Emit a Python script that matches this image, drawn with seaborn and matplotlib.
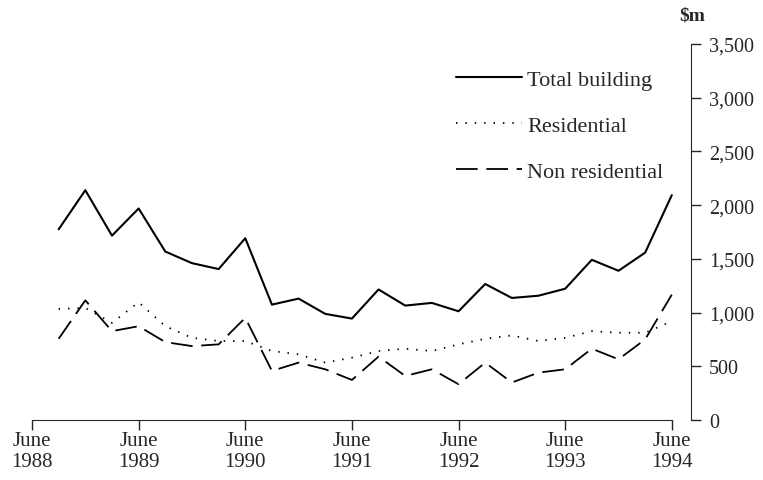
import numpy as np
import pandas as pd
import matplotlib
matplotlib.use('Agg')
import matplotlib.pyplot as plt
import seaborn as sns

sns.set_style("ticks")
plt.rcParams['font.family'] = ['Liberation Serif', 'DejaVu Serif']

# quarterly values, Sep 1988 .. Jun 1994 ($m)
quarters = ['Sep 1988', 'Dec 1988', 'Mar 1989', 'Jun 1989', 'Sep 1989', 'Dec 1989',
            'Mar 1990', 'Jun 1990', 'Sep 1990', 'Dec 1990', 'Mar 1991', 'Jun 1991',
            'Sep 1991', 'Dec 1991', 'Mar 1992', 'Jun 1992', 'Sep 1992', 'Dec 1992',
            'Mar 1993', 'Jun 1993', 'Sep 1993', 'Dec 1993', 'Mar 1994', 'Jun 1994']
total_building = [1775, 2139, 1716, 1969, 1568, 1460, 1405, 1692, 1074, 1130, 988, 944,
                  1215, 1065, 1090, 1012, 1266, 1136, 1157, 1222, 1491, 1389, 1558, 2093]
residential = [1034, 1043, 904, 1096, 873, 765, 735, 735, 642, 611, 534, 580,
               642, 664, 642, 704, 756, 787, 735, 765, 827, 812, 812, 919]
non_residential = [756, 1114, 827, 873, 725, 688, 704, 951, 457, 534, 472, 373,
                   590, 410, 472, 333, 534, 349, 441, 472, 664, 565, 750, 1167]

xtick_labels = ['June\n1988', 'June\n1989', 'June\n1990', 'June\n1991',
                'June\n1992', 'June\n1993', 'June\n1994']
yticks = [0, 500, 1000, 1500, 2000, 2500, 3000, 3500]
ytick_labels = ['0', '500', '1,000', '1,500', '2,000', '2,500', '3,000', '3,500']

# quarter index: 0 = June 1988
qpos = np.arange(1, len(quarters) + 1)

fig = plt.figure(figsize=(7.63, 4.81), dpi=100)
ax = fig.add_axes([32 / 763, 1 - 421 / 481, (691 - 32) / 763, (421 - 45) / 481])

sns.lineplot(x=qpos, y=total_building, color='black', lw=1.5,
             label='Total building', ax=ax)
sns.lineplot(x=qpos, y=residential, color='black', lw=1.3,
             linestyle=(0, (0.8, 4.4)), label='Residential', ax=ax)
sns.lineplot(x=qpos, y=non_residential, color='black', lw=1.3,
             linestyle=(0, (12, 4.8)), label='Non residential', ax=ax)

ax.set_xlim(0, 24.72)
ax.set_ylim(0, 3500)

ax.set_xticks(np.arange(0, 25, 4))
ax.set_xticklabels(xtick_labels, fontsize=15, linespacing=1.1)
ax.set_yticks(yticks)
ax.set_yticklabels(ytick_labels, fontsize=14.5)

ax.yaxis.tick_right()
ax.spines['left'].set_visible(False)
ax.spines['top'].set_visible(False)
ax.spines['bottom'].set_bounds(0, 24)
ax.tick_params(axis='x', direction='out', length=7, width=1, pad=1)
ax.tick_params(axis='y', direction='out', length=7, width=1, pad=6,
               right=True, left=False)
ax.set_xlabel('')
ax.set_ylabel('')

fig.text(692 / 763, 1 - 16 / 481, r'\$m', fontsize=14, ha='center', va='center',
         fontweight='bold')

leg = ax.legend(loc='upper left', bbox_to_anchor=(436 / 763, 1 - 50 / 481),
                bbox_transform=fig.transFigure, frameon=False, fontsize=16,
                handlelength=2.95, handletextpad=0.25, labelspacing=1.15)

fig.savefig('out.png', dpi=100)
